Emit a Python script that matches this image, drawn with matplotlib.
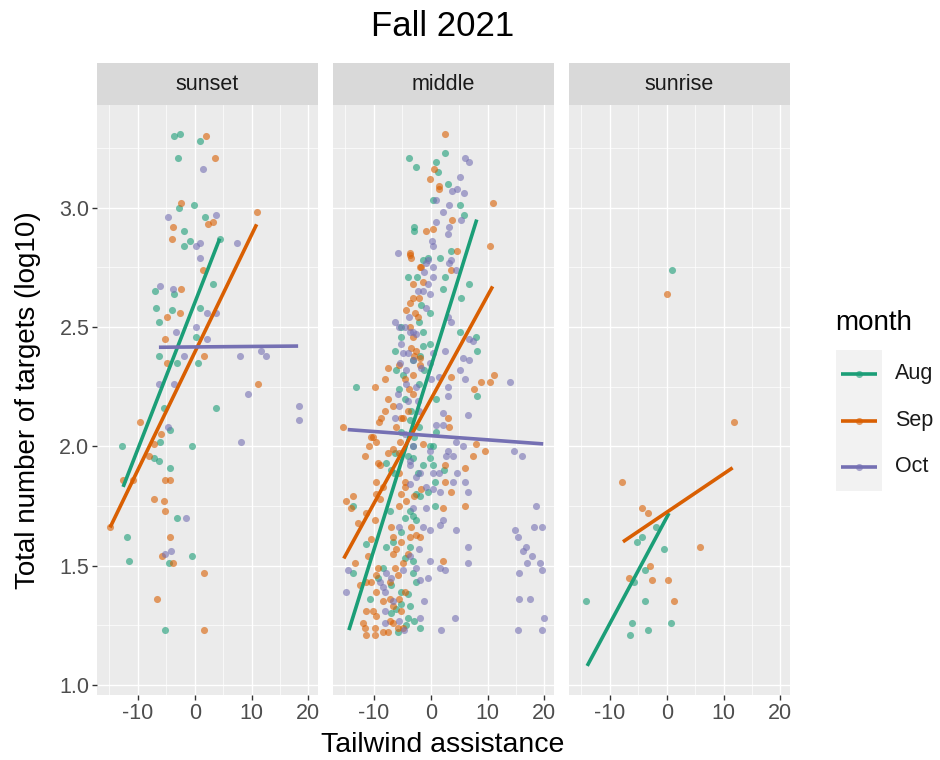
import matplotlib
matplotlib.use("Agg")
import matplotlib.pyplot as plt
from matplotlib.ticker import MultipleLocator

# ── Data ──────────────────────────────────────────────────────────────────────
panels = ["sunset", "middle", "sunrise"]
months = ["Aug", "Sep", "Oct"]

sunset_aug_x = [-3.7, -2.6, -3, 1, -2.8, -0.2, 1.8, -1.9, -0.9, -1.8, 4.4, 3.3, -7, -3.7, -6.8, -4, -6.3, 1, 0.2,
                -6.3, -3.2, 0.5, 3.7, -5.4, -4.4, -12.8, -6.1, -0.4, -7.2, -6.3, -4.4, -3.2, -12, -11.6, -4.6, -0.4, -5.3]
sunset_aug_y = [3.30, 3.31, 3.21, 3.28, 3.0, 3.01, 2.96, 2.90, 2.86, 2.84, 2.87, 2.68, 2.65, 2.64, 2.58, 2.57, 2.52,
                2.58, 2.46, 2.38, 2.35, 2.35, 2.16, 2.16, 2.07, 2.0, 2.02, 2.0, 1.95, 1.94, 1.91, 1.70, 1.62, 1.52,
                1.51, 1.54, 1.23]
sunset_sep_x = [1.9, 3.5, -2.5, 11, 3.3, 2.3, -3.9, -4, 1.4, -2.5, -4.9, -2.6, -5.3, 1.6, -4.9, 11.2, -9.6, -6,
                -7.2, -8.1, -12.6, -10.9, -5.3, -4.4, -7.2, -5.4, -5.3, -14.9, -4.4, -5.8, -3.9, 1.6, -6.7, 1.6]
sunset_sep_y = [3.30, 3.21, 3.02, 2.98, 2.94, 2.93, 2.92, 2.87, 2.74, 2.66, 2.54, 2.56, 2.45, 2.38, 2.35, 2.26,
                2.10, 2.05, 2.01, 1.96, 1.86, 1.86, 1.86, 1.86, 1.78, 1.77, 1.73, 1.66, 1.62, 1.54, 1.51, 1.47,
                1.36, 1.23]
sunset_oct_x = [1.4, -4.7, 3.7, 7.5, 0.2, 1, 1, -6.1, -3.9, 2.1, 3.7, 0.2, -3.3, 2.1, -1.9, 7.9, 11.6, 12.6, -6.3,
                -3.7, 9.3, 18.4, 18.4, -4.7, 8.1, -1.6, -5.3, -4.2]
sunset_oct_y = [3.16, 2.96, 2.97, 2.85, 2.84, 2.85, 2.79, 2.67, 2.66, 2.56, 2.56, 2.50, 2.48, 2.45, 2.38, 2.38,
                2.40, 2.38, 2.26, 2.26, 2.22, 2.17, 2.11, 2.08, 2.02, 1.70, 1.55, 1.56]

middle_aug_x = [-3.9, -2.6, 2.6, 0.9, 1.2, 3, 0.4, 5.1, 5.8, -3, -3, 1.6, 3.5, -0.4, -4, -2.5, 2.6, 6.8, 2.1, 5.4,
                -2.1, -1.4, -5.3, 5.1, 7.9, -6.3, -1.9, -0.2, 8.2, -6.1, -1.1, -13.2, 0.9, 8.2, -4.6, -3.5, -0.2,
                -3.2, -6.3, -0.2, -3.2, -7.9, 0.4, -7, -2.3, 0.7, -2.6,
                -13.7, -3.2, -4.6, -11.4, -7.9, -3.7, -8.4, -13.7, -3.2, -2.6, -5.3, -10.7, -6.1, -3.7, -4, -1.8,
                -5.8, 0.7, -1.8,
                -1.7, -0.2, -5.2, -1.4, -3.2, -4.9, -2.0, -5.5, -3.7, -2.0, -5.2, -2.9, -4.0, -1.4, 0.4, 0.9,
                -6.4, -0.5, 2.4, -1.4,
                -7.2, -3.7, -2.6, -5.2, -6.7, -4.6, -3.2, -9.3, -7.0, -4.0, -5.2, -7.0, -4.3, -2.9]
middle_aug_y = [3.21, 3.17, 3.23, 3.19, 3.15, 3.10, 3.03, 3.01, 2.97, 2.92, 2.90, 2.79, 2.82, 2.79, 2.71, 2.71,
                2.71, 2.68, 2.66, 2.62,
                2.52, 2.48, 2.46, 2.48, 2.46, 2.40, 2.38, 2.43, 2.40, 2.32, 2.32, 2.25, 2.20, 2.21, 2.20, 2.15,
                2.00, 2.00, 1.97, 1.95, 1.95, 1.93, 1.92, 1.90, 1.89, 1.85, 1.80,
                1.75, 1.71, 1.70, 1.59, 1.58, 1.58, 1.49, 1.47, 1.47, 1.43, 1.39, 1.36, 1.32, 1.33, 1.28, 1.24,
                1.22, 1.75, 1.79,
                2.59, 2.56, 2.50, 2.42, 2.36, 2.30, 2.26, 2.24, 2.11, 2.08, 2.06, 2.04, 1.96, 1.92, 2.00, 2.06,
                1.89, 1.81, 1.90, 2.78,
                1.73, 1.73, 1.69, 1.64, 1.60, 1.53, 1.52, 1.45, 1.42, 1.38, 1.34, 1.30, 1.25, 1.27]
middle_sep_x = [2.5, 0.5, -0.2, 1.4, 1.4, 11, 3.7, -0.9, 0.4, 10.4, -3.7, -3.5, 4.7, 3.5, -1.8, -3.2, -1.4, -3.2,
                -3.7, -2.8, -3.2, -2.6, -1.9, -7.5, -8.1, -9.8, -3.2, 3.5, 8.8, 10.4, 11.2, 7.7, -7.5, -3.2, -8.1,
                -8.8, -9.1, -4.9, -6.1, 3, 3.3, -15.4, -10.5, -9.6, -5.4, -1.4, 7.9, 9.6, -11.6, -7.5, 2.5, 7.4,
                6.1, -9.3, -9.6, -4.6, -13.7, 2.6,
                -14.9, -14, -12.8, -11.4, -9.8, -10.5, -11.1, -13.3, -9.3, -6.7, -5.3, -6.1, -3.7, -1.9, -4.9,
                -6.3, 2.1, 6, 2.1, -12.5, -10.5, -9.6, -7.2, -10.2, -6.7, -11.9, -11.6, -11.4, -9.8, -9.8, -6.7,
                -7.5, -4.9, -5.3, -8.9,
                -3.7, -1.7, -2.0,
                -4.3, -2.3, -3.7, -3.4, -2.9, -1.9, -5.5, -4.6, -3.9, -6.7, -5.2, -4.0, -10.2, -10.8, -6.7, -5.5,
                -9.0, -5.5, -4.6, -5.2, -2.9, -1.7, 3.6, -9.6, -8.4,
                -5.5, -4.3, -7.0, -3.5, -2.6, -6.7, -4.0, -5.8, -7.2, -9.6, -11.4, -8.4, -5.5, -4.6, -9.6, -7.2,
                -11.4, -8.4, -5.8]
middle_sep_y = [3.31, 3.16, 3.12, 3.09, 3.08, 3.02, 2.95, 2.90, 2.91, 2.84, 2.81, 2.79, 2.82, 2.74, 2.75, 2.68,
                2.69, 2.62,
                2.60, 2.56, 2.46, 2.40, 2.37, 2.33, 2.28, 2.25, 2.30, 2.29, 2.27, 2.27, 2.30, 2.24, 2.20, 2.22,
                2.15, 2.12, 2.10, 2.12, 2.08, 2.12, 2.08, 2.08, 2.04, 2.02, 2.02, 2.01, 2.01, 1.98, 1.96, 1.97,
                1.92, 1.96, 1.91, 1.93, 1.85, 1.85, 1.79, 1.85,
                1.77, 1.74, 1.68, 1.72, 1.69, 1.61, 1.54, 1.51, 1.49, 1.62, 1.60, 1.57, 1.62, 1.62, 1.51, 1.49,
                1.52, 1.75, 1.74, 1.42, 1.43, 1.39, 1.36, 1.31, 1.33, 1.26, 1.24, 1.21, 1.21, 1.24, 1.26, 1.22,
                1.24, 1.31, 1.78,
                2.80, 2.75, 2.62,
                2.57, 2.54, 2.50, 2.41, 2.38, 2.34, 2.34, 2.28, 2.24, 2.17, 2.12, 2.15, 2.04, 2.00, 1.99, 1.97,
                1.92, 1.89, 1.83, 1.80, 1.79, 1.82, 1.81, 1.80, 1.83,
                1.75, 1.77, 1.66, 1.66, 1.63, 1.55, 1.55, 1.46, 1.43, 1.46, 1.43, 1.35, 1.36, 1.39, 1.29, 1.27,
                1.31, 1.22, 1.24]
middle_oct_x = [6, 6.8, 5.1, 3.7, 4.7, 5.8, 0.9, 3.3, 2.1, 5.3, 0.9, 3.3, 3, 0.2, -5.8, 0.4, 3.5, -0.9, 4.4, 0.4,
                -1.1, -1.4, -0.2,
                -0.9, -6.3, -3.9, -4.6, -3.2, 3, 3.5, 6.8, 7.4, 2.5, 5.6, 6.8, -4.9, -5.4, 5.1, -4.4, 0, 6.1, 13.9,
                -4.4, -2.6, -5.8, 3, -4, 2.1, 6.5, -6.3, 0.9, 2.1, 4.4, 5.6, 3, 14.7, 16, 3.9, -3.7, 4.7, -1.8, 0.4,
                3.9, 6.1, 6.5, 1.6,
                -0.9, 2.1, 1.6, -1.4, -0.2, 4.4, 6.5, 6.5, -0.2, 1.6, 2.5, -2.6, -14.6, -7.9, -0.5, -8.9, -1.8,
                -14.9, -8.1, -1.1, -8.1, -8.1, -1.9, 4.2, 1.8, -4.7, 18.6, 18.2, 19.5, 14.9, 15.3, 16.7, 16.3,
                17.9, 17, 19.3, 19.6, 15.6, 15.6, 17.4, 20, 15.3, 19.5,
                -0.5, 0.4, 3.3, -2.3, -0.5,
                -5.5, -3.7, -2.6, -5.2, -4.0, -3.2, -1.7, 0.4, -0.2, 1.5, 3.0, -2.3, -2.0, -5.5, -4.6, -3.2, -0.2,
                -3.7, -2.6, -0.8, 0.4, -3.7, 1.5, 2.7,
                -5.5, -3.7, -4.9, -7.0, -8.4, -6.7, -5.5, -3.2, -2.0]
middle_oct_y = [3.21, 3.19, 3.13, 3.07, 3.08, 3.06, 3.03, 3.01, 2.98, 2.95, 2.94, 2.92, 2.89, 2.86, 2.81, 2.84,
                2.78, 2.77, 2.74, 2.71, 2.73, 2.65, 2.64,
                2.58, 2.52, 2.54, 2.50, 2.48, 2.54, 2.52, 2.45, 2.44, 2.40, 2.37, 2.36, 2.39, 2.35, 2.32, 2.32,
                2.28, 2.28, 2.27, 2.26, 2.25, 2.22, 2.21, 2.19, 2.14, 2.13, 2.12, 2.09, 2.09, 2.02, 2.00, 1.98,
                1.98, 1.96, 1.96, 1.94, 1.89, 1.89, 1.89, 1.85, 1.85, 1.81, 1.81,
                1.74, 1.69, 1.67, 1.66, 1.65, 1.65, 1.58, 1.51, 1.52, 1.49, 1.48, 1.49, 1.48, 1.47, 1.45, 1.43,
                1.44, 1.39, 1.39, 1.35, 1.31, 1.26, 1.28, 1.28, 1.23, 1.23, 1.75, 1.66, 1.66, 1.65, 1.62, 1.58,
                1.56, 1.54, 1.51, 1.51, 1.48, 1.47, 1.36, 1.36, 1.28, 1.23, 1.23,
                2.78, 2.75, 2.77, 2.65, 2.68,
                2.50, 2.48, 2.47, 2.43, 2.39, 2.36, 2.33, 2.39, 2.35, 2.29, 2.25, 2.19, 2.15, 2.17, 2.05, 2.00, 1.98,
                1.92, 1.87, 1.83, 1.82, 1.84, 1.89, 1.96,
                1.66, 1.54, 1.48, 1.45, 1.41, 1.35, 1.27, 1.74, 1.57]

sunrise_aug_x = [0.9, -14.2, -1.9, -5.3, -4.4, -0.5, -3.9, -5.8, -3.9, -6.1, -6.5, -3.3, 0.7]
sunrise_aug_y = [2.74, 1.35, 1.66, 1.60, 1.62, 1.57, 1.48, 1.43, 1.35, 1.26, 1.21, 1.23, 1.26]
sunrise_sep_x = [0, 11.8, -7.9, -4.4, -3.3, 5.8, -3, -6.7, -2.6, 0.2, 1.2]
sunrise_sep_y = [2.64, 2.10, 1.85, 1.74, 1.72, 1.58, 1.50, 1.45, 1.44, 1.44, 1.35]

# linear fits (end points as drawn)
fit_panel = ["sunset", "sunset", "sunset", "middle", "middle", "middle", "sunrise", "sunrise"]
fit_month = ["Aug", "Sep", "Oct", "Aug", "Sep", "Oct", "Aug", "Sep"]
fit_x0 = [-12.6, -14.9, -6.3, -14.4, -15.3, -14.6, -14.0, -7.7]
fit_x1 = [4.4, 10.9, 18.2, 8.1, 10.9, 19.8, 0.4, 11.6]
fit_y0 = [1.83, 1.66, 2.415, 1.23, 1.53, 2.07, 1.08, 1.60]
fit_y1 = [2.87, 2.93, 2.42, 2.95, 2.67, 2.01, 1.72, 1.91]

points = {
    "sunset": {"Aug": (sunset_aug_x, sunset_aug_y), "Sep": (sunset_sep_x, sunset_sep_y),
               "Oct": (sunset_oct_x, sunset_oct_y)},
    "middle": {"Aug": (middle_aug_x, middle_aug_y), "Sep": (middle_sep_x, middle_sep_y),
               "Oct": (middle_oct_x, middle_oct_y)},
    "sunrise": {"Aug": (sunrise_aug_x, sunrise_aug_y), "Sep": (sunrise_sep_x, sunrise_sep_y)},
}

# ── Style ─────────────────────────────────────────────────────────────────────
COLORS = {"Aug": "#1B9E77", "Sep": "#D95F02", "Oct": "#7570B3"}
PANEL_BG, STRIP_BG = "#EBEBEB", "#D9D9D9"
TICK_TX = "#4D4D4D"
plt.rcParams["font.family"] = ["Liberation Sans", "DejaVu Sans"]

W, H = 940, 760
fig = plt.figure(figsize=(W / 100, H / 100), dpi=100, facecolor="white")

def fx(px): return px / W
def fy(py): return 1 - py / H

panel_left = [97, 333, 569]
panel_w = 221
top, bottom, strip_top = 105, 695, 63

for i, name in enumerate(panels):
    ax = fig.add_axes([fx(panel_left[i]), fy(bottom), panel_w / W, (bottom - top) / H])
    ax.set_facecolor(PANEL_BG)
    ax.set_xlim(-17.2, 21.7)
    ax.set_ylim(0.958, 3.43)
    ax.xaxis.set_major_locator(MultipleLocator(10))
    ax.xaxis.set_minor_locator(MultipleLocator(5))
    ax.yaxis.set_major_locator(MultipleLocator(0.5))
    ax.yaxis.set_minor_locator(MultipleLocator(0.25))
    ax.grid(which="major", color="white", lw=1.0)
    ax.grid(which="minor", color="white", lw=0.5)
    ax.set_axisbelow(True)
    for s in ax.spines.values():
        s.set_visible(False)
    ax.tick_params(which="major", length=3.5, width=1.0, color="#333333",
                   labelsize=15.5, labelcolor=TICK_TX, pad=2)
    ax.tick_params(which="minor", length=0)
    ax.set_xticks([-10, 0, 10, 20])
    ax.set_xticklabels(["-10", "0", "10", "20"])
    if i == 0:
        ax.set_yticks([1.0, 1.5, 2.0, 2.5, 3.0])
        ax.set_yticklabels(["1.0", "1.5", "2.0", "2.5", "3.0"])
    else:
        ax.tick_params(axis="y", which="major", length=0, labelleft=False)

    for m in months:
        if m in points[name]:
            xs, ys = points[name][m]
            ax.scatter(xs, ys, s=26, color=COLORS[m], alpha=0.6, linewidths=0, zorder=3)
    for p, m, x0, x1, y0, y1 in zip(fit_panel, fit_month, fit_x0, fit_x1, fit_y0, fit_y1):
        if p == name:
            ax.plot([x0, x1], [y0, y1], color=COLORS[m], lw=2.6, solid_capstyle="butt", zorder=4)

    # strip
    sax = fig.add_axes([fx(panel_left[i]), fy(top), panel_w / W, (top - strip_top) / H])
    sax.set_facecolor(STRIP_BG)
    sax.set_xticks([]); sax.set_yticks([])
    for s in sax.spines.values():
        s.set_visible(False)
    sax.text(0.5, 0.5, name, ha="center", va="center", fontsize=15.5, color="#1A1A1A",
             transform=sax.transAxes)

fig.text(fx(443), fy(27), "Fall 2021", ha="center", va="center", fontsize=25, color="black")
fig.text(fx(443), fy(745), "Tailwind assistance", ha="center", va="center", fontsize=20.5, color="black")
fig.text(fx(28), fy(400), "Total number of targets (log10)", ha="center", va="center",
         rotation=90, fontsize=20, color="black")

# legend
fig.text(fx(835), fy(323), "month", ha="left", va="center", fontsize=20, color="black")
lax = fig.add_axes([fx(836), fy(491), 46 / W, 141 / H])
lax.set_facecolor("#F2F2F2")
lax.set_xlim(0, 1); lax.set_ylim(0, 3)
lax.set_xticks([]); lax.set_yticks([])
for s in lax.spines.values():
    s.set_visible(False)
for k, m in enumerate(months):
    yk = 2.5 - k
    lax.plot([0.1, 0.9], [yk, yk], color=COLORS[m], lw=2.6, solid_capstyle="butt")
    lax.scatter([0.5], [yk], s=26, color=COLORS[m], alpha=0.6, linewidths=0)
    fig.text(fx(895), fy(373 + 47 * k), m, ha="left", va="center", fontsize=15.5, color="#1A1A1A")

fig.savefig("out.png", dpi=100, facecolor="white")
